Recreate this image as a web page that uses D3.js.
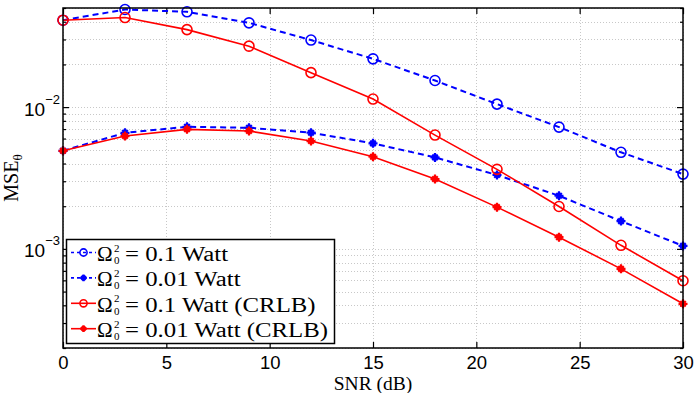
<!DOCTYPE html>
<html><head><meta charset="utf-8">
<script src="https://cdn.jsdelivr.net/npm/d3@7"></script>
<style>body{margin:0;background:#fff}svg{display:block}</style>
</head><body>
<svg id="c" width="696" height="393"></svg>
<script>
// ---- data ----
const snr = [0, 3, 6, 9, 12, 15, 18, 21, 24, 27, 30];
const mse01 = [0.041, 0.0488, 0.047, 0.0393, 0.0297, 0.0219, 0.0154, 0.0105, 0.00723, 0.0048, 0.00337];
const mse001 = [0.00492, 0.00659, 0.00726, 0.00715, 0.0066, 0.00555, 0.00442, 0.00332, 0.00237, 0.00157, 0.00105];
const crlb01 = [0.041, 0.0428, 0.0352, 0.0269, 0.0175, 0.0114, 0.00635, 0.00364, 0.00199, 0.00106, 0.000596];
const crlb001 = [0.00492, 0.00625, 0.00697, 0.00678, 0.00576, 0.00447, 0.00311, 0.00197, 0.00121, 0.000723, 0.00041];
const seriesNames = ["0.1 Watt", "0.01 Watt", "0.1 Watt (CRLB)", "0.01 Watt (CRLB)"];
const xTicks = [0, 5, 10, 15, 20, 25, 30];
const yMajorTicks = [1e-3, 1e-2];
const yMajorLabels = ["\u22123", "\u22122"];
const xLabel = "SNR (dB)";
const yLabel = "MSE";
const yLabelSub = "\u03b8";

const series = [
  {name: seriesNames[0], values: mse01, color: "#0000ff", dash: "6,4", marker: "circle"},
  {name: seriesNames[1], values: mse001, color: "#0000ff", dash: "6,4", marker: "star"},
  {name: seriesNames[2], values: crlb01, color: "#ff0000", dash: null, marker: "circle"},
  {name: seriesNames[3], values: crlb001, color: "#ff0000", dash: null, marker: "star"}
];

// ---- layout ----
const W = 696, H = 393;
const m = {left: 63, right: 13, top: 8, bottom: 45};
const pw = W - m.left - m.right, ph = H - m.top - m.bottom;
const svg = d3.select("#c");
const g = svg.append("g").attr("transform", `translate(${m.left},${m.top})`);

const x = d3.scaleLinear().domain([0, 30]).range([0, pw]);
const y = d3.scaleLog().domain([2e-4, 5e-2]).range([ph, 0]);

// minor/major y values inside the domain
const yAll = [];
for (let e = -4; e <= -2; e++) for (let k = 1; k <= 9; k++) {
  const v = k * Math.pow(10, e);
  if (v >= 2e-4 * 0.999 && v <= 5e-2 * 1.001) yAll.push(v);
}

// grid
const grid = g.append("g").attr("stroke", "#c8c8c8").attr("stroke-width", 1).attr("stroke-dasharray", "1,2");
grid.selectAll("line.gy").data(yAll).join("line")
  .attr("x1", 0).attr("x2", pw).attr("y1", d => Math.round(y(d)) + 0.5).attr("y2", d => Math.round(y(d)) + 0.5);
grid.selectAll("line.gx").data(xTicks).join("line")
  .attr("y1", 0).attr("y2", ph).attr("x1", d => Math.round(x(d)) + 0.5).attr("x2", d => Math.round(x(d)) + 0.5);

// axes with inward ticks
const axB = d3.axisBottom(x).tickValues(xTicks).tickSize(-6).tickPadding(8).tickFormat(d3.format("d"));
const axT = d3.axisTop(x).tickValues(xTicks).tickSize(-6).tickFormat("");
const yMinor = yAll.filter(v => !yMajorTicks.includes(v));
const axLm = d3.axisLeft(y).tickValues(yMinor).tickSize(-3).tickFormat("");
const axRm = d3.axisRight(y).tickValues(yMinor).tickSize(-3).tickFormat("");
const axL = d3.axisLeft(y).tickValues(yMajorTicks).tickSize(-6).tickFormat("");
const axR = d3.axisRight(y).tickValues(yMajorTicks).tickSize(-6).tickFormat("");

function styleAxis(sel) {
  sel.selectAll(".domain").remove();
  sel.selectAll("line").attr("stroke", "#000").attr("stroke-width", 1.2);
  sel.selectAll("text").attr("font-family", "'Liberation Sans', Arial, sans-serif").attr("font-size", 18.5).attr("fill", "#000");
}
g.append("g").attr("transform", `translate(0,${ph})`).call(axB).call(styleAxis);
g.append("g").call(axT).call(styleAxis);
g.append("g").call(axLm).call(styleAxis);
g.append("g").attr("transform", `translate(${pw},0)`).call(axRm).call(styleAxis);
g.append("g").call(axL).call(styleAxis);
g.append("g").attr("transform", `translate(${pw},0)`).call(axR).call(styleAxis);

// y tick labels 10^e
yMajorTicks.forEach((v, i) => {
  const t = g.append("text").attr("x", -3).attr("y", y(v) + 8.5)
    .attr("text-anchor", "end")
    .attr("font-family", "'Liberation Sans', Arial, sans-serif").attr("font-size", 19);
  t.append("tspan").text("10");
  t.append("tspan").attr("font-size", 13).attr("dy", -12).text(yMajorLabels[i]);
});

// series
const line = d3.line().x((d, i) => x(snr[i])).y(d => y(d));
function drawMarker(sel, type, color, r) {
  if (type === "circle") {
    sel.append("circle").attr("r", r).attr("fill", "none").attr("stroke", color).attr("stroke-width", 1.6);
  } else {
    const s = r * 0.85;
    const p = `M${-r},0L${r},0M0,${-r}L0,${r}M${-s*0.72},${-s*0.72}L${s*0.72},${s*0.72}M${-s*0.72},${s*0.72}L${s*0.72},${-s*0.72}`;
    sel.append("path").attr("d", p).attr("stroke", color).attr("stroke-width", 2.2).attr("fill", "none");
    sel.append("circle").attr("r", r * 0.45).attr("fill", color);
  }
}
series.forEach(s => {
  const sg = g.append("g");
  sg.append("path").datum(s.values).attr("d", line).attr("fill", "none")
    .attr("stroke", s.color).attr("stroke-width", s.dash ? 2 : 1.6)
    .attr("stroke-dasharray", s.dash);
  sg.selectAll("g.mk").data(s.values).join("g")
    .attr("transform", (d, i) => `translate(${x(snr[i])},${y(d)})`)
    .each(function() { drawMarker(d3.select(this), s.marker, s.color, s.marker === "circle" ? 5 : 4.5); });
});

// box
g.append("rect").attr("x", 0).attr("y", 0).attr("width", pw).attr("height", ph)
  .attr("fill", "none").attr("stroke", "#000").attr("stroke-width", 1.5);

// legend
const lg = svg.append("g");
lg.append("rect").attr("x", 66.5).attr("y", 239.5).attr("width", 268).attr("height", 104)
  .attr("fill", "#fff").attr("stroke", "#000").attr("stroke-width", 1.5);
const rowY = i => 252.5 + i * 25.4;
const serif = "'Liberation Serif', 'Times New Roman', serif";
const texts = [];
series.forEach((s, i) => {
  const cy = rowY(i);
  lg.append("line").attr("x1", 71).attr("x2", 96).attr("y1", cy).attr("y2", cy)
    .attr("stroke", s.color).attr("stroke-width", 1.6).attr("stroke-dasharray", s.dash ? "3,3" : null);
  const mk = lg.append("g").attr("transform", `translate(83.5,${cy})`);
  drawMarker(mk, s.marker, s.color, s.marker === "circle" ? 3.6 : 3.4);
  lg.append("text").attr("x", 97).attr("y", cy + 8.5).attr("font-family", serif).attr("font-size", 21).text("\u03a9");
  lg.append("text").attr("x", 114).attr("y", cy - 1).attr("font-family", serif).attr("font-size", 11).text("2");
  lg.append("text").attr("x", 114).attr("y", cy + 11.5).attr("font-family", serif).attr("font-size", 11).text("0");
  const t = lg.append("text").attr("x", 125).attr("y", cy + 8.5).attr("font-family", serif).attr("font-size", 20)
    .attr("xml:space", "preserve").text("= " + s.name);
  texts.push(t);
});
// uniformly widen to mimic the wider Computer Modern metrics
const natural = texts[3].node().getComputedTextLength();
const k = 203 / natural;
texts.forEach(t => {
  const n = t.node().getComputedTextLength();
  t.attr("textLength", n * k).attr("lengthAdjust", "spacingAndGlyphs");
});

// axis labels
svg.append("text").attr("x", m.left + pw / 2).attr("y", 390).attr("text-anchor", "middle")
  .attr("font-family", serif).attr("font-size", 19.5).text(xLabel);
const yl = svg.append("text").attr("transform", `translate(18,${m.top + ph / 2}) rotate(-90)`)
  .attr("text-anchor", "middle").attr("font-family", serif).attr("font-size", 20);
yl.append("tspan").text(yLabel);
yl.append("tspan").attr("font-size", 13).attr("dy", 4).text(yLabelSub);
</script>
</body></html>
